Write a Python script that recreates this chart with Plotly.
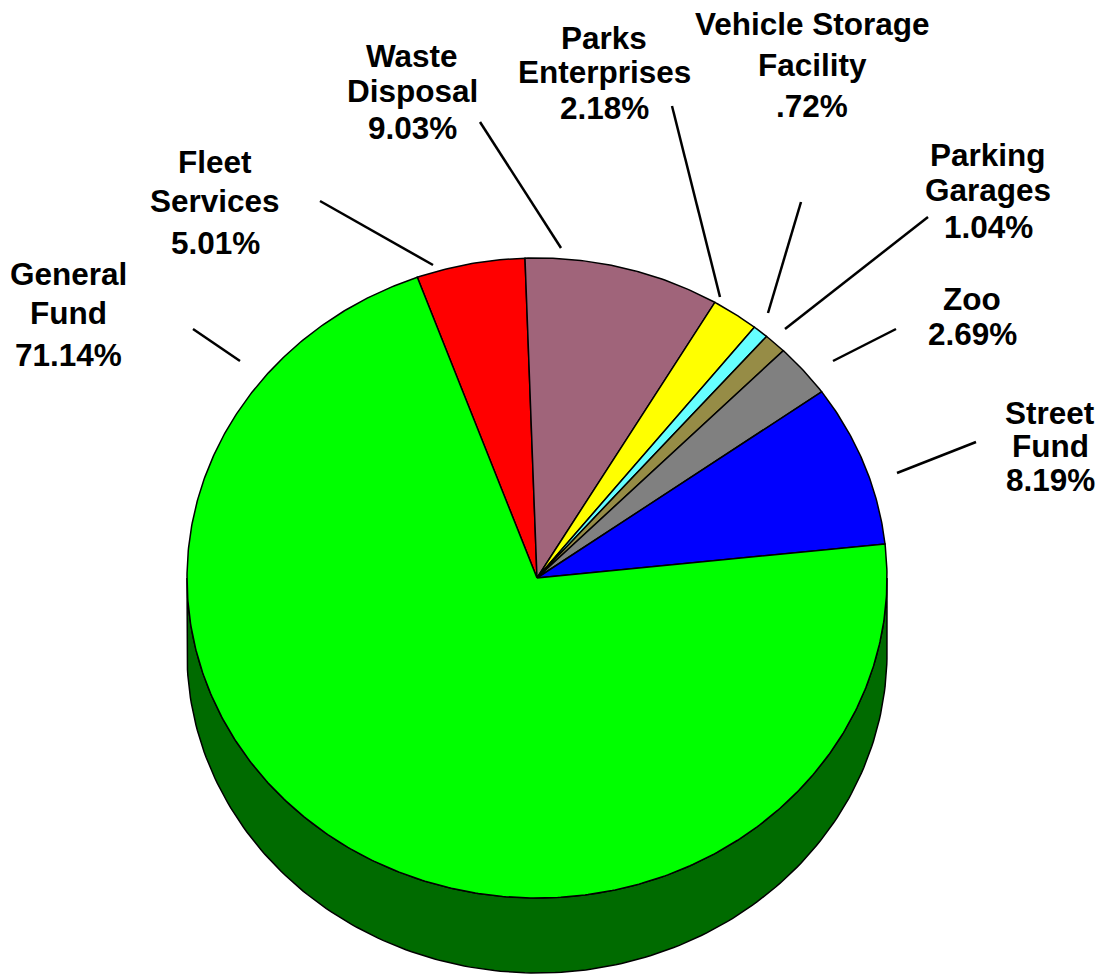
import numpy as np
import plotly.graph_objects as go

# ---------------- data ----------------
categories = ["Fleet Services", "Waste Disposal", "Parks Enterprises",
              "Vehicle Storage Facility", "Parking Garages", "Zoo",
              "Street Fund", "General Fund"]
values = [5.01, 9.03, 2.18, 0.72, 1.04, 2.69, 8.19, 71.14]
label_lines = [["Fleet", "Services"], ["Waste", "Disposal"], ["Parks", "Enterprises"],
               ["Vehicle Storage", "Facility"], ["Parking", "Garages"], ["Zoo"],
               ["Street", "Fund"], ["General", "Fund"]]
colors = ["#FF0000", "#A0647A", "#FFFF00", "#66FFFF", "#968C46", "#808080",
          "#0000FF", "#00FF00"]
side_color = "#006B00"

# ---------------- geometry / layout ----------------
W, H = 1106, 974
CX, CY = 537, 578          # centre of top face (pixels)
RX, RY = 350, 320          # radii of elliptical top face
DEPTH = 75                 # thickness of the 3D side
START = -20.0              # start angle, degrees clockwise from top
FONT_SIZE = 31.5
Y_OFF = 1.5                # cap-centre to text-box-centre offset

# label placement: text centre x, centre y of each line, leader line (x0,y0,x1,y1)
label_pos = {
    "Fleet Services": (215, [160, 199, 241], (320, 201, 433, 265)),
    "Waste Disposal": (412, [54, 89, 126], (480, 122, 561, 248)),
    "Parks Enterprises": (604, [36, 70, 106], (672, 106, 720, 297)),
    "Vehicle Storage Facility": (812, [22, 63, 104], (801, 202, 768, 313)),
    "Parking Garages": (988, [153, 188, 225], (928, 217, 785, 329)),
    "Zoo": (972, [297, 332], (896, 329, 833, 361)),
    "Street Fund": (1050, [411, 444, 478], (976, 442, 897, 473)),
    "General Fund": (68, [272, 311, 353], (193, 329, 240, 361)),
}


def ell(t_deg, dy=0.0):
    t = np.radians(t_deg)
    return CX + RX * np.sin(t), CY - RY * np.cos(t) + dy


def fmt_pct(v):
    s = f"{v:.2f}%"
    if s.startswith("0."):
        s = s[1:]
    return s


fig = go.Figure()

# 3D side (visible lower half)
ts = np.linspace(90, 270, 181)
x_top, y_top = ell(ts)
x_bot, y_bot = ell(ts[::-1], DEPTH)
fig.add_trace(go.Scatter(
    x=np.concatenate([x_top, x_bot, x_top[:1]]),
    y=np.concatenate([y_top, y_bot, y_top[:1]]),
    mode="lines", fill="toself", fillcolor=side_color,
    line=dict(color="black", width=1.5), hoverinfo="skip", showlegend=False))

# top face slices
total = sum(values)
angle = START
for cat, v, col in zip(categories, values, colors):
    sweep = v / total * 360.0
    n = max(3, int(sweep * 2))
    tt = np.linspace(angle, angle + sweep, n)
    xs, ys = ell(tt)
    fig.add_trace(go.Scatter(
        x=np.concatenate([[CX], xs, [CX]]),
        y=np.concatenate([[CY], ys, [CY]]),
        mode="lines", fill="toself", fillcolor=col,
        line=dict(color="black", width=1.5),
        name=cat, hoverinfo="text", text=f"{cat}: {fmt_pct(v)}",
        showlegend=False))
    angle += sweep

annotations = []
shapes = []
for cat, lines, v in zip(categories, label_lines, values):
    tx, ys, (lx0, ly0, lx1, ly1) = label_pos[cat]
    for txt, ty in zip(lines + [fmt_pct(v)], ys):
        annotations.append(dict(
            x=tx, y=ty + Y_OFF, xref="x", yref="y", xanchor="center", yanchor="middle",
            align="center", showarrow=False,
            text=f"<b>{txt}</b>",
            font=dict(family="Arial, Liberation Sans, sans-serif", size=FONT_SIZE,
                      color="black")))
    shapes.append(dict(type="line", xref="x", yref="y", x0=lx0, y0=ly0, x1=lx1, y1=ly1,
                       line=dict(color="black", width=2.5)))

fig.update_layout(
    width=W, height=H,
    margin=dict(l=0, r=0, t=0, b=0),
    paper_bgcolor="white", plot_bgcolor="white",
    xaxis=dict(range=[0, W], visible=False, fixedrange=True),
    yaxis=dict(range=[H, 0], visible=False, fixedrange=True),
    annotations=annotations, shapes=shapes,
    showlegend=False,
)

fig.write_html("out.html", config={"displayModeBar": False},
               post_script="document.body.style.margin='0';document.body.style.overflow='hidden';")
